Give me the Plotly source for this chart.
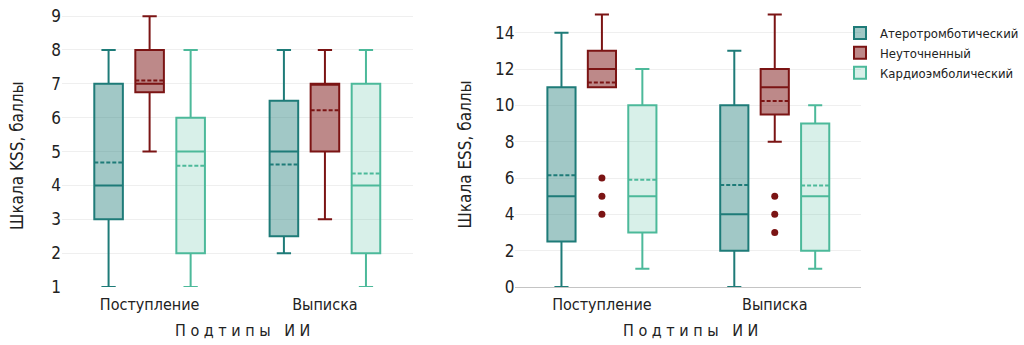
import plotly.graph_objects as go

# Группы по времени и подтипы ишемического инсульта
stages = ["Поступление", "Выписка"]
subtypes = ["Атеротромботический", "Неуточненный", "Кардиоэмболический"]

# Шкала KSS: [Поступление, Выписка] для каждого подтипа
kss_low = {"Атеротромботический": [1, 2], "Неуточненный": [5, 3], "Кардиоэмболический": [1, 1]}
kss_q1 = {"Атеротромботический": [3, 2.5], "Неуточненный": [6.75, 5], "Кардиоэмболический": [2, 2]}
kss_med = {"Атеротромботический": [4, 5], "Неуточненный": [7, 7], "Кардиоэмболический": [5, 4]}
kss_q3 = {"Атеротромботический": [7, 6.5], "Неуточненный": [8, 7], "Кардиоэмболический": [6, 7]}
kss_high = {"Атеротромботический": [8, 8], "Неуточненный": [9, 8], "Кардиоэмболический": [8, 8]}
kss_mean = {"Атеротромботический": [4.68, 4.62], "Неуточненный": [7.1, 6.22], "Кардиоэмболический": [4.58, 4.35]}

# Шкала ESS
ess_low = {"Атеротромботический": [0, 0], "Неуточненный": [11, 8], "Кардиоэмболический": [1, 1]}
ess_q1 = {"Атеротромботический": [2.5, 2], "Неуточненный": [11, 9.5], "Кардиоэмболический": [3, 2]}
ess_med = {"Атеротромботический": [5, 4], "Неуточненный": [12, 11], "Кардиоэмболический": [5, 5]}
ess_q3 = {"Атеротромботический": [11, 10], "Неуточненный": [13, 12], "Кардиоэмболический": [10, 9]}
ess_high = {"Атеротромботический": [14, 13], "Неуточненный": [15, 15], "Кардиоэмболический": [12, 10]}
ess_mean = {"Атеротромботический": [6.15, 5.62], "Неуточненный": [11.26, 10.24], "Кардиоэмболический": [5.9, 5.59]}

# Выбросы ESS (только неуточненный подтип)
ess_outliers = {"Поступление": [4, 5, 6], "Выписка": [3, 4, 5]}

line_colors = {"Атеротромботический": "#1e7b78", "Неуточненный": "#7b1414", "Кардиоэмболический": "#4cb99a"}
fill_colors = {"Атеротромботический": "rgba(30,123,120,0.42)", "Неуточненный": "rgba(123,20,20,0.5)",
               "Кардиоэмболический": "rgba(76,185,154,0.22)"}

FONT = "DejaVu Sans Condensed, Liberation Sans Narrow, Roboto"
offsets = [-0.234, 0.0, 0.234]
box_w = 0.163

fig = go.Figure()


def add_boxes(xaxis, yaxis, low, q1, med, q3, high, mean, legend):
    for k, st in enumerate(subtypes):
        xs = [i + offsets[k] for i in range(len(stages))]
        fig.add_trace(go.Box(
            x=xs, lowerfence=low[st], q1=q1[st], median=med[st], q3=q3[st],
            upperfence=high[st], mean=mean[st], boxmean=True,
            width=box_w, whiskerwidth=0.5,
            line=dict(color=line_colors[st], width=2), fillcolor=fill_colors[st],
            name=st, legendgroup=st, showlegend=legend,
            xaxis=xaxis, yaxis=yaxis, boxpoints=False,
        ))


add_boxes("x", "y", kss_low, kss_q1, kss_med, kss_q3, kss_high, kss_mean, True)
add_boxes("x2", "y2", ess_low, ess_q1, ess_med, ess_q3, ess_high, ess_mean, False)

# Выбросы для неуточненного подтипа на шкале ESS
ox, oy = [], []
for i, stg in enumerate(stages):
    for v in ess_outliers[stg]:
        ox.append(i + offsets[1])
        oy.append(v)
fig.add_trace(go.Scatter(
    x=ox, y=oy, mode="markers", xaxis="x2", yaxis="y2", showlegend=False,
    marker=dict(color=line_colors["Неуточненный"], size=7),
))

W, H = 1024, 345
ydom = [(H - 287) / H, (H - 8) / H]
xaxis_common = dict(range=[-0.5, 1.5], tickvals=[0, 1], ticktext=stages, showgrid=False,
                    zeroline=False, showline=False, ticks="", automargin=False,
                    ticklabelstandoff=6,
                    tickfont=dict(family=FONT, size=16, color="#222"))
yaxis_common = dict(showgrid=True, gridcolor="#efefef", gridwidth=1, ticks="", automargin=False,
                    tickfont=dict(family=FONT, size=17, color="#222"), showline=False)

fig.update_layout(
    width=W, height=H, margin=dict(l=0, r=0, t=0, b=0),
    plot_bgcolor="white", paper_bgcolor="white",
    font=dict(family=FONT, color="#222"),
    xaxis=dict(domain=[62 / W, 413 / W], anchor="y", **xaxis_common),
    yaxis=dict(domain=ydom, anchor="x", range=[1, 9.24], dtick=1, zeroline=False, **yaxis_common),
    xaxis2=dict(domain=[516 / W, 862 / W], anchor="y2", **xaxis_common),
    yaxis2=dict(domain=ydom, anchor="x2", range=[0, 15.36], dtick=2, zeroline=True,
                zerolinecolor="#c4c4c4", zerolinewidth=1, **yaxis_common),
    legend=dict(x=841 / W, y=(H - 18) / H, xanchor="left", yanchor="top",
                font=dict(family=FONT, size=13, color="#222"), tracegroupgap=0,
                itemwidth=30, bgcolor="rgba(0,0,0,0)"),
    annotations=[
        dict(text="Шкала KSS, баллы", x=17 / W, y=(H - 155) / H, xref="paper", yref="paper",
             xanchor="center", yanchor="middle",
             textangle=-90, showarrow=False, font=dict(family=FONT, size=17, color="#222")),
        dict(text="Шкала ESS, баллы", x=465 / W, y=(H - 155) / H, xref="paper", yref="paper",
             xanchor="center", yanchor="middle",
             textangle=-90, showarrow=False, font=dict(family=FONT, size=17, color="#222")),
        dict(text="П о д т и п ы   И И", x=243 / W, y=(H - 330) / H, xref="paper", yref="paper",
             xanchor="center", yanchor="middle",
             showarrow=False, font=dict(family=FONT, size=16, color="#222")),
        dict(text="П о д т и п ы   И И", x=691 / W, y=(H - 330) / H, xref="paper", yref="paper",
             xanchor="center", yanchor="middle",
             showarrow=False, font=dict(family=FONT, size=16, color="#222")),
    ],
)

fig.write_html("out.html")
